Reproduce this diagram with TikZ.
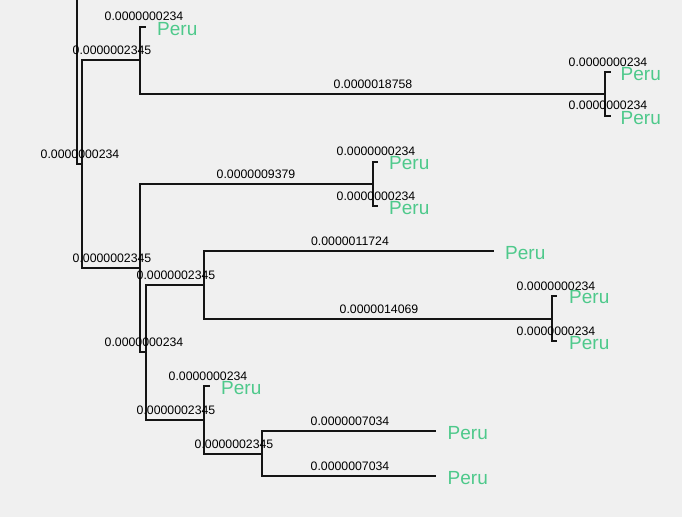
\documentclass[tikz,border=0pt]{standalone}
\usepackage{fontspec}
\setmainfont{Liberation Sans}
\definecolor{bgc}{RGB}{240,240,240}
\definecolor{peru}{RGB}{78,201,139}
\definecolor{edgec}{RGB}{20,20,20}
\begin{document}
\begin{tikzpicture}[x=1pt,y=-1pt,
  branch/.style={draw=edgec,line width=1.8pt,line join=miter},
  num/.style={anchor=base,inner sep=0pt,font=\fontsize{12.3}{14}\selectfont},
  taxon/.style={anchor=base west,inner sep=0pt,text=peru,font=\fontsize{19}{22}\selectfont}]
\fill[bgc] (0,0) rectangle (682,517);
\useasboundingbox (0,0) rectangle (682,517);
% junctions
\coordinate (top) at (77,0);
\coordinate (n1) at (82,164);
\coordinate (n2) at (140,60);
\coordinate (n3) at (140,268);
\coordinate (n4) at (605,94);
\coordinate (n5) at (373,184);
\coordinate (n6) at (146,352);
\coordinate (n7) at (204,285);
\coordinate (n8) at (204,420);
\coordinate (n9) at (552,319);
\coordinate (n10) at (262,454);
% leaves
\coordinate (l1) at (146,27);
\coordinate (l2) at (611,72);
\coordinate (l3) at (611,116);
\coordinate (l4) at (378,162);
\coordinate (l5) at (378,206);
\coordinate (l6) at (494,251);
\coordinate (l7) at (557,296);
\coordinate (l8) at (557,341);
\coordinate (l9) at (210,386);
\coordinate (l10) at (436,431);
\coordinate (l11) at (436,476);
% branches
\draw[branch] (top) |- (n1);
\draw[branch] (n1) |- (n2);
\draw[branch] (n1) |- (n3);
\draw[branch] (n2) |- (l1);
\draw[branch] (n2) |- (n4);
\draw[branch] (n4) |- (l2);
\draw[branch] (n4) |- (l3);
\draw[branch] (n3) |- (n5);
\draw[branch] (n3) |- (n6);
\draw[branch] (n5) |- (l4);
\draw[branch] (n5) |- (l5);
\draw[branch] (n6) |- (n7);
\draw[branch] (n6) |- (n8);
\draw[branch] (n7) |- (l6);
\draw[branch] (n7) |- (n9);
\draw[branch] (n9) |- (l7);
\draw[branch] (n9) |- (l8);
\draw[branch] (n8) |- (l9);
\draw[branch] (n8) |- (n10);
\draw[branch] (n10) |- (l10);
\draw[branch] (n10) |- (l11);
% branch lengths
\node[num] (b1) at (144,20.5) {0.0000000234};
\node[num] (b2) at (112,54) {0.0000002345};
\node[num] (b3) at (80,158) {0.0000000234};
\node[num] (b4) at (373,88) {0.0000018758};
\node[num] (b5) at (608,66) {0.0000000234};
\node[num] (b6) at (608,109) {0.0000000234};
\node[num] (b7) at (256,178.5) {0.0000009379};
\node[num] (b8) at (376,155) {0.0000000234};
\node[num] (b9) at (376,200) {0.0000000234};
\node[num] (b10) at (350,245) {0.0000011724};
\node[num] (b11) at (379,313) {0.0000014069};
\node[num] (b12) at (556,290) {0.0000000234};
\node[num] (b13) at (556,335) {0.0000000234};
\node[num] (b14) at (112,262) {0.0000002345};
\node[num] (b15) at (176,279) {0.0000002345};
\node[num] (b16) at (144,346) {0.0000000234};
\node[num] (b17) at (208,380) {0.0000000234};
\node[num] (b18) at (176,414) {0.0000002345};
\node[num] (b19) at (234,448) {0.0000002345};
\node[num] (b20) at (350,425) {0.0000007034};
\node[num] (b21) at (350,470) {0.0000007034};
% taxa
\node[taxon] (t1) at (157,35) {Peru};
\node[taxon] (t2) at (620.5,80) {Peru};
\node[taxon] (t3) at (620.5,124) {Peru};
\node[taxon] (t4) at (389,169) {Peru};
\node[taxon] (t5) at (389,214) {Peru};
\node[taxon] (t6) at (505,259) {Peru};
\node[taxon] (t7) at (569,303) {Peru};
\node[taxon] (t8) at (569,349) {Peru};
\node[taxon] (t9) at (221,394) {Peru};
\node[taxon] (t10) at (447.5,439) {Peru};
\node[taxon] (t11) at (447.5,484) {Peru};
\end{tikzpicture}
\end{document}
